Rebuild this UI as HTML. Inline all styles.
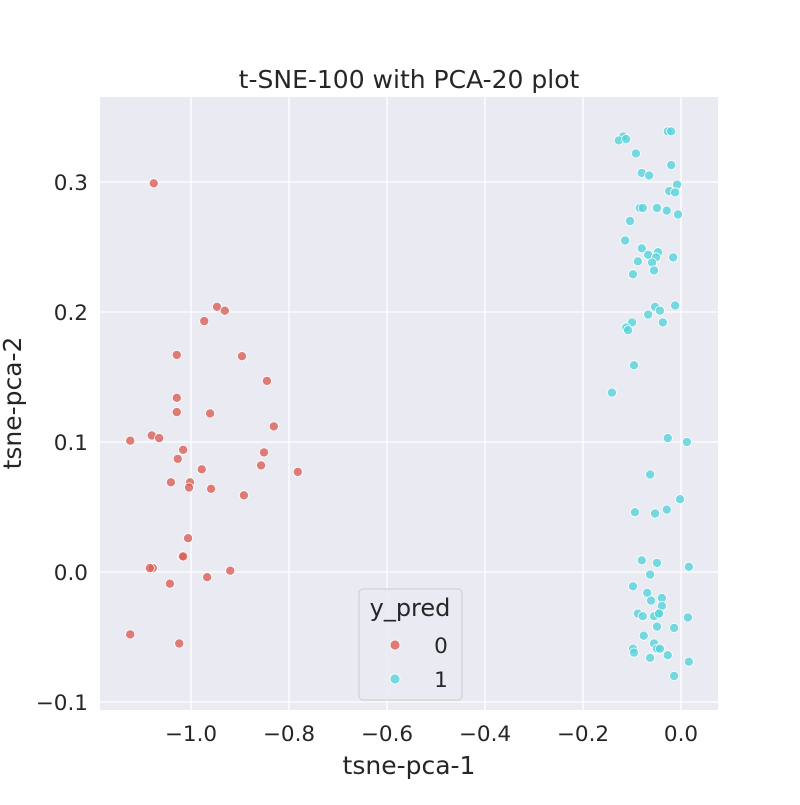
<!DOCTYPE html>
<html><head><meta charset="utf-8"><style>
body{margin:0;background:#fff;}
svg text{font-family:"DejaVu Sans","Liberation Sans",sans-serif;fill:#262626;}
</style></head><body>
<svg id="chart" width="800" height="800" viewBox="0 0 800 800"></svg>
<script>
const xTicks=[-1.0,-0.8,-0.6,-0.4,-0.2,0.0];
const xTickLabels=["−1.0","−0.8","−0.6","−0.4","−0.2","0.0"];
const yTicks=[-0.1,0.0,0.1,0.2,0.3];
const yTickLabels=["−0.1","0.0","0.1","0.2","0.3"];
const class0X=[-1.076,-0.947,-0.931,-0.973,-1.029,-0.896,-0.845,-1.029,-1.029,-0.961,-0.831,-1.124,-1.080,-1.065,-1.016,-1.027,-0.851,-0.978,-0.782,-1.041,-1.002,-1.004,-0.959,-0.857,-0.892,-1.006,-1.018,-1.016,-1.078,-1.084,-0.920,-0.967,-1.043,-1.124,-1.024];
const class0Y=[0.299,0.204,0.201,0.193,0.167,0.166,0.147,0.134,0.123,0.122,0.112,0.101,0.105,0.103,0.094,0.087,0.092,0.079,0.077,0.069,0.069,0.065,0.064,0.082,0.059,0.026,0.012,0.012,0.003,0.003,0.001,-0.004,-0.009,-0.048,-0.055];
const class1X=[-0.027,-0.020,-0.118,-0.127,-0.112,-0.092,-0.020,-0.080,-0.065,-0.008,-0.024,-0.012,-0.084,-0.078,-0.049,-0.029,-0.006,-0.104,-0.114,-0.080,-0.067,-0.047,-0.088,-0.051,-0.059,-0.098,-0.055,-0.016,-0.053,-0.012,-0.043,-0.100,-0.067,-0.112,-0.037,-0.108,-0.096,-0.141,-0.027,0.012,-0.063,-0.002,-0.094,-0.053,-0.029,-0.080,-0.049,0.016,-0.063,-0.098,-0.069,-0.061,-0.039,-0.039,-0.045,-0.088,-0.078,-0.055,-0.045,-0.049,-0.014,0.014,-0.076,-0.055,-0.098,-0.096,-0.049,-0.043,-0.063,-0.027,0.016,-0.014];
const class1Y=[0.339,0.339,0.335,0.332,0.333,0.322,0.313,0.307,0.305,0.298,0.293,0.292,0.280,0.280,0.280,0.278,0.275,0.270,0.255,0.249,0.244,0.246,0.239,0.242,0.238,0.229,0.232,0.242,0.204,0.205,0.201,0.192,0.198,0.188,0.192,0.186,0.159,0.138,0.103,0.100,0.075,0.056,0.046,0.045,0.048,0.009,0.007,0.004,-0.002,-0.011,-0.016,-0.022,-0.020,-0.026,-0.032,-0.032,-0.034,-0.034,-0.032,-0.042,-0.043,-0.035,-0.049,-0.055,-0.059,-0.062,-0.059,-0.059,-0.066,-0.064,-0.069,-0.080];

const NS="http://www.w3.org/2000/svg";
const svg=document.getElementById('chart');
const L=100,R=718,T=97,B=710;
function sx(v){return 681+v*490;}
function sy(v){return 572-v*1300;}
function mk(tag,attrs,parent){const e=document.createElementNS(NS,tag);for(const k in attrs)e.setAttribute(k,attrs[k]);(parent||svg).appendChild(e);return e;}

const bg=mk('rect',{x:L,y:T,width:R-L,height:B-T,fill:'#eaeaf2'});


xTicks.forEach((v,i)=>{
  const g=mk('line',{x1:sx(v),x2:sx(v),y1:T,y2:B,stroke:'#fff','stroke-width':1.3});
  
  
  const t=mk('text',{x:sx(v),y:B+31,'text-anchor':'middle','font-size':21.5});
  t.textContent=xTickLabels[i];
  
  
});
yTicks.forEach((v,i)=>{
  const g=mk('line',{x1:L,x2:R,y1:sy(v),y2:sy(v),stroke:'#fff','stroke-width':1.3});
  
  
  const t=mk('text',{x:L-12,y:sy(v)+8,'text-anchor':'end','font-size':21.5});
  t.textContent=yTickLabels[i];
  
  
});
function pts(xs,ys,col,name){
  xs.forEach((x,i)=>{
    const c=mk('circle',{cx:sx(x),cy:sy(ys[i]),r:4.6,fill:col,'fill-opacity':0.8,stroke:'#fff','stroke-width':0.8});
    
    
  });
}
pts(class0X,class0Y,'#db5f57','point-class-0');
pts(class1X,class1Y,'#57d3db','point-class-1');

const title=mk('text',{x:409,y:88,'text-anchor':'middle','font-size':25});
title.textContent='t-SNE-100 with PCA-20 plot';


const xl=mk('text',{x:409,y:774,'text-anchor':'middle','font-size':25});
xl.textContent='tsne-pca-1';


const yl=mk('text',{x:21,y:403,'text-anchor':'middle','font-size':25,transform:'rotate(-90 21 403)'});
yl.textContent='tsne-pca-2';



const lg=mk('g',{});


mk('rect',{x:359,y:589,width:103,height:111,rx:4,fill:'#eaeaf2','fill-opacity':0.8,stroke:'#cccccc'},lg);
const lt=mk('text',{x:410,y:616,'text-anchor':'middle','font-size':24},lg);
lt.textContent='y_pred';
[['0','#db5f57',645],['1','#57d3db',679]].forEach(e=>{
  const c=mk('circle',{cx:395,cy:e[2],r:5,fill:e[1],'fill-opacity':0.8,stroke:'#fff','stroke-width':0.8},lg);
  
  
  const t=mk('text',{x:441,y:e[2]+8,'text-anchor':'middle','font-size':21.5},lg);
  t.textContent=e[0];
  
  
});
</script>
</body></html>
